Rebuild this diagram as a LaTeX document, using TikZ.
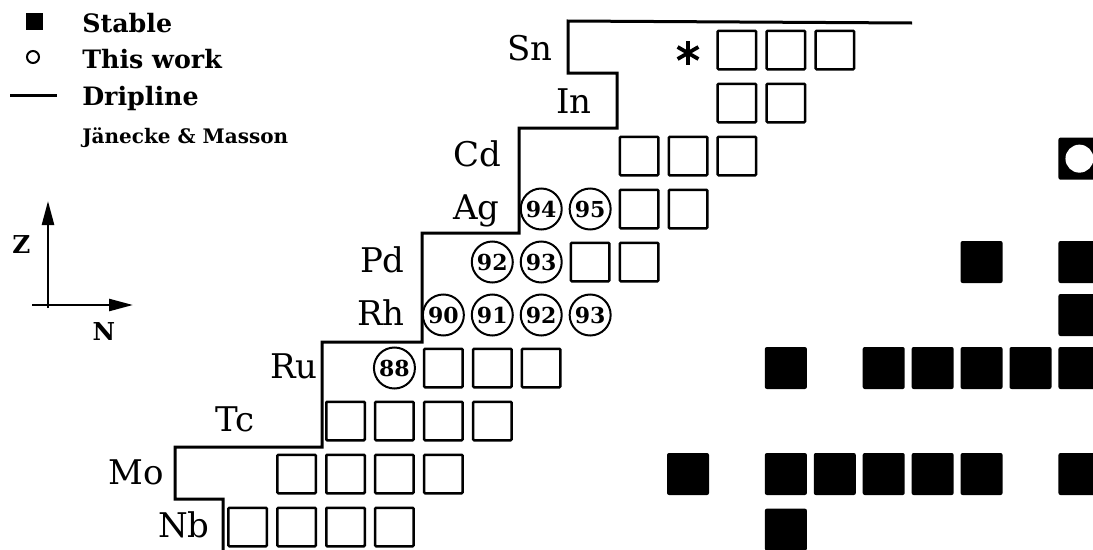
\documentclass[tikz,border=0pt]{standalone}
\usepackage{fontspec}
\setmainfont{DejaVu Serif}
\usetikzlibrary{arrows.meta}
\tikzset{
  open/.style={draw, line width=2.5*0.75pt, minimum size=38.5*0.75pt, inner sep=0pt, rounded corners=0.75pt},
  stable/.style={fill=black, minimum size=42*0.75pt, inner sep=0pt, rounded corners=1.5pt},
  mine/.style={draw, circle, line width=2*0.75pt, minimum size=41*0.75pt, inner sep=0pt,
    font=\fontsize{16.5}{18}\selectfont\bfseries},
  elem/.style={anchor=base east, inner sep=0pt, font=\fontsize{25.5}{30}\selectfont},
  legtext/.style={anchor=base west, inner sep=0pt, font=\fontsize{19}{22}\selectfont\bfseries},
  axlabel/.style={inner sep=0pt, font=\fontsize{18.5}{20}\selectfont\bfseries},
  drip/.style={line width=3*0.75pt, line join=miter},
  axis/.style={line width=2.5*0.75pt, -{Triangle[length=18pt, width=9pt]}},
}
% one cell of the chart: style, name, column, row, text
\newcommand{\nuc}[5]{\node[#1] (#2) at ({345.5+48.93*(#3)},{50+53*(#4)}) {#5};}
% element symbol placed left of the drip line: name, right edge, row, text
\newcommand{\elname}[4]{\node[elem] (#1) at (#2,{60+53*(#3)}) {#4};}
\begin{document}
\begin{tikzpicture}[x=0.75pt,y=-0.75pt]
\clip (0,0) rectangle (1093,550);
\fill[white] (0,0) rectangle (1093,550);

% ---- legend ----
\node[fill=black, minimum size=17*0.75pt, inner sep=0pt] (leg-stable) at (34.5,21.5) {};
\node[draw, circle, line width=2*0.75pt, minimum size=12*0.75pt, inner sep=0pt] (leg-work) at (33,57) {};
\coordinate (leg-d1) at (10,95.5);
\coordinate (leg-d2) at (57,95.5);
\draw[line width=2.5*0.75pt] (leg-d1) -- (leg-d2);
\node[legtext] (txt-stable) at (82,32) {Stable};
\node[legtext] (txt-work) at (82,68) {This work};
\node[legtext] (txt-drip) at (82,105) {Dripline};
\node[legtext, font=\fontsize{15}{17}\selectfont\bfseries] (txt-jm) at (82,143) {Jänecke \& Masson};

% ---- axes ----
\coordinate (ax-b) at (48,308);
\coordinate (ax-z) at (48,201);
\coordinate (ax-l) at (32,305);
\coordinate (ax-n) at (133,305);
\draw[axis] (ax-b) -- (ax-z);
\draw[axis] (ax-l) -- (ax-n);
\node[axlabel] (lab-z) at (21.5,245) {Z};
\node[axlabel] (lab-n) at (104,332) {N};

% ---- drip line ----
\coordinate (d0) at (912,23);
\coordinate (d1) at (568,21);
\coordinate (d2) at (568,73);
\coordinate (d3) at (617,73);
\coordinate (d4) at (617,128);
\coordinate (d5) at (519,128);
\coordinate (d6) at (519,233);
\coordinate (d7) at (422,233);
\coordinate (d8) at (422,342);
\coordinate (d9) at (322,342);
\coordinate (d10) at (322,447);
\coordinate (d11) at (175,447);
\coordinate (d12) at (175,499);
\coordinate (d13) at (223,499);
\coordinate (d14) at (223,560);
\draw[drip] (d0) -- (d1) -- (d2) -- (d3) -- (d4) -- (d5) -- (d6) -- (d7) -- (d8)
  -- (d9) -- (d10) -- (d11) -- (d12) -- (d13) -- (d14);

% ---- element symbols ----
\elname{el-Sn}{553}{0}{Sn}
\elname{el-In}{592}{1}{In}
\elname{el-Cd}{502}{2}{Cd}
\elname{el-Ag}{500}{3}{Ag}
\elname{el-Pd}{405}{4}{Pd}
\elname{el-Rh}{405}{5}{Rh}
\elname{el-Ru}{318}{6}{Ru}
\elname{el-Tc}{255}{7}{Tc}
\elname{el-Mo}{164}{8}{Mo}
\elname{el-Nb}{210}{9}{Nb}

% ---- Sn ----
\node (Sn7) at ({345.5+48.93*7},53) {};
\draw[line width=3.8*0.75pt] (Sn7.center) ++(0,-12) -- ++(0,24);
\draw[line width=3.8*0.75pt] (Sn7.center) ++(30:12) -- ++(210:24);
\draw[line width=3.8*0.75pt] (Sn7.center) ++(150:12) -- ++(330:24);
\foreach \c in {8,9,10} {\nuc{open}{Sn\c}{\c}{0}{}}
% ---- In ----
\foreach \c in {8,9} {\nuc{open}{In\c}{\c}{1}{}}
% ---- Cd ----
\foreach \c in {6,7,8} {\nuc{open}{Cd\c}{\c}{2}{}}
\nuc{stable}{Cd15}{15}{2.05}{}
\node[circle, fill=white, minimum size=28*0.75pt, inner sep=0pt] (Cd15w) at (Cd15) {};
% ---- Ag ----
\nuc{mine}{Ag4}{4}{3}{94}
\nuc{mine}{Ag5}{5}{3}{95}
\foreach \c in {6,7} {\nuc{open}{Ag\c}{\c}{3}{}}
% ---- Pd ----
\nuc{mine}{Pd3}{3}{4}{92}
\nuc{mine}{Pd4}{4}{4}{93}
\foreach \c in {5,6} {\nuc{open}{Pd\c}{\c}{4}{}}
\foreach \c in {13,15} {\nuc{stable}{Pd\c}{\c}{4}{}}
% ---- Rh ----
\nuc{mine}{Rh2}{2}{5}{90}
\nuc{mine}{Rh3}{3}{5}{91}
\nuc{mine}{Rh4}{4}{5}{92}
\nuc{mine}{Rh5}{5}{5}{93}
\nuc{stable}{Rh15}{15}{5}{}
% ---- Ru ----
\nuc{mine}{Ru1}{1}{6}{88}
\foreach \c in {2,3,4} {\nuc{open}{Ru\c}{\c}{6}{}}
\foreach \c in {9,11,12,13,14,15} {\nuc{stable}{Ru\c}{\c}{6}{}}
% ---- Tc ----
\foreach \c in {0,1,2,3} {\nuc{open}{Tc\c}{\c}{7}{}}
% ---- Mo ----
\foreach \c in {-1,0,1,2} {\nuc{open}{Mo\c}{\c}{8}{}}
\foreach \c in {7,9,10,11,12,13,15} {\nuc{stable}{Mo\c}{\c}{8}{}}
% ---- Nb ----
\foreach \c in {-2,-1,0,1} {\nuc{open}{Nb\c}{\c}{9}{}}
\nuc{stable}{Nb9}{9}{9.05}{}
\end{tikzpicture}
\end{document}
